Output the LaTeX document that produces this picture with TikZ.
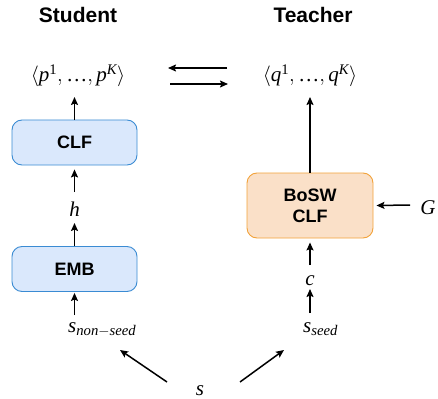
\documentclass[tikz,border=0pt]{standalone}
\usepackage{amsmath}
\usepackage{fontspec}
\setmainfont{Liberation Serif}
\setsansfont{Liberation Sans}
\usetikzlibrary{arrows.meta}
\definecolor{bfill}{HTML}{DAE8FC}
\definecolor{bline}{HTML}{3A8BD3}
\definecolor{ofill}{HTML}{FAE0C8}
\definecolor{oline}{HTML}{F2A23A}
\newcommand{\vi}[1]{\textit{#1}}
\newcommand{\vr}[1]{\textrm{#1}}
\tikzset{
  hdr/.style={font=\sffamily\bfseries\fontsize{21}{25}\selectfont, inner sep=0pt, anchor=base},
  mth/.style={font=\fontsize{21}{25}\selectfont, inner sep=0pt},
  boxtext/.style={font=\sffamily\bfseries\fontsize{18}{21}\selectfont, rounded corners=10pt, line width=0.9pt, align=center, inner sep=0pt},
  bluebox/.style={boxtext, draw=bline, fill=bfill, minimum width=125pt, minimum height=45pt},
  orangebox/.style={boxtext, draw=oline, fill=ofill, minimum width=126pt, minimum height=65pt},
  arr/.style={line width=1.5pt, -{Stealth[length=8pt,width=7pt,inset=1.5pt]}}
}
\begin{document}
\begin{tikzpicture}[x=1pt,y=-1pt]
\useasboundingbox (0,0) rectangle (438,398);
% headers
\node[hdr] (student) at (78,23) {Student};
\node[hdr] (teacher) at (313,23) {Teacher};
% distributions
\node[mth, anchor=base] (p) at (78,82) {$\langle \vi{p}^{\vr{1}},\vr{…},\vi{p}^{\vi{K}}\rangle$};
\node[mth, anchor=base] (q) at (310,82) {$\langle \vi{q}^{\vr{1}},\vr{…},\vi{q}^{\vi{K}}\rangle$};
% student
\node[bluebox] (clf) at (74.5,142.5) {CLF};
\node[mth, anchor=base] (h) at (74.5,216) {$\vi{h}$};
\node[bluebox] (emb) at (74.5,269) {EMB};
\node[mth, anchor=base west] (snon) at (68,332) {$\vi{s}_{\vi{non}-\vi{seed}}$};
% teacher
\node[orangebox] (bosw) at (310,205.5) {BoSW\\[0pt]CLF};
\node[mth, anchor=base] (G) at (428,214) {$\vi{G}$};
\node[mth, anchor=base] (c) at (310,285) {$\vi{c}$};
\node[mth, anchor=base west] (sseed) at (303,332) {$\vi{s}_{\vi{seed}}$};
% source
\node[mth, anchor=base] (s) at (200,395) {$\vi{s}$};
% connectors
\draw[arr] (clf.north) -- ([shift={(0,15)}]clf.north |- p.base);
\draw[arr] ([yshift=9pt]h.north) -- ([yshift=-4pt]clf.south);
\draw[arr] (emb.north) -- ([shift={(0,7)}]h.base);
\draw[arr] ([shift={(0,-17)}]emb.south |- snon.base) -- ([yshift=-1pt]emb.south);
\draw[arr] (bosw.north) -- ([shift={(0,15)}]bosw.north |- q.base);
\draw[arr] ([shift={(0,-20)}]c.base) -- ([yshift=-4pt]bosw.south);
\draw[arr] ([shift={(0,-19)}]c.base |- sseed.base) -- ([shift={(0,4)}]c.base);
\draw[arr] ([shift={(-18,-9)}]G.base) -- ([xshift=3pt]bosw.east);
\draw[arr] ([shift={(-33,-13)}]s.base) -- ([shift={(52,18)}]snon.base west);
\draw[arr] ([shift={(40,-13)}]s.base) -- ([shift={(-19,18)}]sseed.base west);
\draw[arr] ([shift={(-83,-14)}]q.base) -- ([shift={(90,-14)}]p.base);
\draw[arr] ([shift={(92,2)}]p.base) -- ([shift={(-82,2)}]q.base);
\end{tikzpicture}
\end{document}
